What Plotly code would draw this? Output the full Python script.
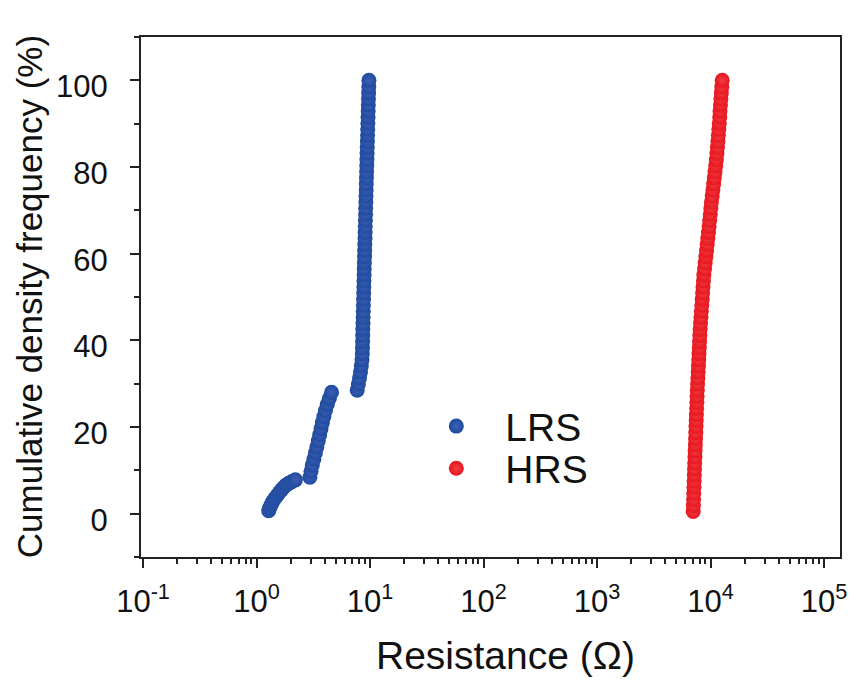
import plotly.graph_objects as go

# ---- data ----
lrs_freq = [0.7, 1.4, 2.1, 2.8, 3.5, 4.2, 4.9, 5.5, 6.1, 6.6, 7.0, 7.4, 7.8,
            8.4, 9.8, 11.2, 12.6, 14.0, 15.4, 16.8, 18.2, 19.6, 21.0, 22.4, 23.8, 25.2, 26.6, 28.0,
            28.5, 29.9, 31.3, 32.7, 34.1, 35.5, 36.9, 38.3, 39.7, 41.1, 42.5, 43.9, 45.3, 46.7,
            48.1, 49.5, 50.9, 52.3, 53.7, 55.1, 56.5, 57.9, 59.3, 60.7, 62.1, 63.5, 64.9, 66.3,
            67.7, 69.1, 70.5, 71.9, 73.3, 74.7, 76.1, 77.5, 78.9, 80.3, 81.7, 83.1, 84.5, 85.9,
            87.3, 88.7, 90.1, 91.5, 92.9, 94.3, 95.7, 97.1, 98.5, 100.0]
lrs_res = [1.28, 1.31, 1.35, 1.39, 1.45, 1.52, 1.59, 1.66, 1.74, 1.82, 1.92, 2.05, 2.20,
           2.95, 3.02, 3.10, 3.20, 3.30, 3.40, 3.50, 3.60, 3.70, 3.80, 3.92, 4.05, 4.20, 4.38, 4.58,
           7.71, 7.90, 8.08, 8.24, 8.38, 8.50, 8.55, 8.58, 8.60, 8.62, 8.64, 8.67, 8.69, 8.72,
           8.74, 8.77, 8.79, 8.82, 8.84, 8.87, 8.89, 8.92, 8.95, 8.97, 9.00, 9.03, 9.05, 9.08,
           9.11, 9.14, 9.16, 9.19, 9.22, 9.25, 9.27, 9.30, 9.33, 9.36, 9.39, 9.42, 9.45, 9.48,
           9.51, 9.54, 9.57, 9.60, 9.63, 9.66, 9.69, 9.72, 9.75, 9.78]

hrs_freq = [0.5, 1.9, 3.3, 4.7, 6.1, 7.5, 8.9, 10.3, 11.7,
            13.1, 14.5, 15.9, 17.3, 18.7, 20.1, 21.5, 22.9, 24.3, 25.7, 27.1,
            28.5, 29.9, 31.3, 32.7, 34.1, 35.5, 36.9, 38.3, 39.7, 41.1, 42.5,
            43.9, 45.3, 46.7, 48.1, 49.5, 50.9, 52.3, 53.7, 55.1,
            56.5, 57.9, 59.3, 60.7, 62.1, 63.5, 64.9,
            66.3, 67.7, 69.1, 70.5, 71.9,
            73.3, 74.7, 76.1, 77.5, 78.9, 80.3, 81.7,
            83.1, 84.5, 85.9, 87.3, 88.7, 90.1, 91.5,
            92.9, 94.3, 95.7, 97.1, 98.5, 100.0]
hrs_res = [7040, 7065, 7090, 7115, 7145, 7175, 7200, 7230, 7255,
           7290, 7320, 7355, 7385, 7420, 7450, 7485, 7515, 7550, 7585, 7615,
           7650, 7695, 7740, 7785, 7830, 7875, 7920, 7965, 8010, 8055, 8100,
           8165, 8235, 8305, 8380, 8450, 8520, 8590, 8665, 8735,
           8860, 8980, 9100, 9225, 9350, 9470, 9595,
           9715, 9835, 9955, 10075, 10195,
           10345, 10500, 10650, 10805, 10955, 11110, 11260,
           11400, 11510, 11620, 11730, 11840, 11950, 12060,
           12130, 12240, 12350, 12460, 12570, 12680]

x_tickvals = [0.1, 1, 10, 100, 1000, 10000, 100000]
x_ticktext = ["10<sup>-1</sup>", "10<sup>0</sup>", "10<sup>1</sup>", "10<sup>2</sup>",
              "10<sup>3</sup>", "10<sup>4</sup>", "10<sup>5</sup>"]
y_tickvals = [0, 20, 40, 60, 80, 100]

BLUE = "#1f4b9f"
RED = "#e8161e"
FONT = "Liberation Sans, Arial, sans-serif"
TXT = "#111"

fig = go.Figure()
fig.add_trace(go.Scatter(
    x=lrs_res, y=lrs_freq, mode="markers", name="LRS", legend="legend",
    marker=dict(size=15, color=BLUE, line=dict(width=0),
                gradient=dict(type="radial", color="#3d5fb2")),
))
fig.add_trace(go.Scatter(
    x=hrs_res, y=hrs_freq, mode="markers", name="HRS", legend="legend2",
    marker=dict(size=15, color=RED, line=dict(width=0),
                gradient=dict(type="radial", color="#ee3c44")),
))

axis_common = dict(showline=True, linecolor="#222", linewidth=2, mirror=True,
                   ticks="outside", ticklen=9, tickwidth=2, tickcolor="#222",
                   showgrid=False, zeroline=False, automargin=False)

fig.update_xaxes(
    type="log", range=[-1.018, 5.141],
    tickmode="array", tickvals=x_tickvals, ticktext=x_ticktext,
    tickfont=dict(family=FONT, size=31, color=TXT),
    ticklabelstandoff=7,
    minor=dict(ticks="outside", ticklen=5, tickwidth=2, tickcolor="#222", dtick="D1", showgrid=False),
    **axis_common,
)
fig.update_yaxes(
    range=[-10, 110],
    tickmode="array", tickvals=y_tickvals,
    tickfont=dict(family=FONT, size=31, color=TXT),
    minor=dict(ticks="outside", ticklen=5, tickwidth=2, tickcolor="#222", dtick=10, tick0=0, showgrid=False),
    ticklabelstandoff=16, ticklabelshift=6,
    **axis_common,
)

legend_common = dict(xanchor="left", yanchor="top", bgcolor="rgba(0,0,0,0)", borderwidth=0,
                     font=dict(family=FONT, size=39, color=TXT), itemwidth=88)

fig.update_layout(
    width=848, height=673,
    margin=dict(l=133, r=16, t=29, b=124),
    paper_bgcolor="white", plot_bgcolor="white",
    font=dict(family=FONT, color=TXT),
    showlegend=True,
    legend=dict(x=0.381, y=0.313, **legend_common),
    legend2=dict(x=0.381, y=0.232, **legend_common),
    annotations=[
        dict(text="Resistance (Ω)", xref="paper", yref="paper", x=0.522, y=-0.19,
             xanchor="center", yanchor="middle", showarrow=False,
             font=dict(family=FONT, size=39, color=TXT)),
        dict(text="Cumulative density frequency (%)", xref="paper", yref="paper",
             x=-0.16, y=0.5, xanchor="center", yanchor="middle", textangle=-90,
             showarrow=False, font=dict(family=FONT, size=35, color=TXT)),
    ],
)

fig.write_html("out.html")
